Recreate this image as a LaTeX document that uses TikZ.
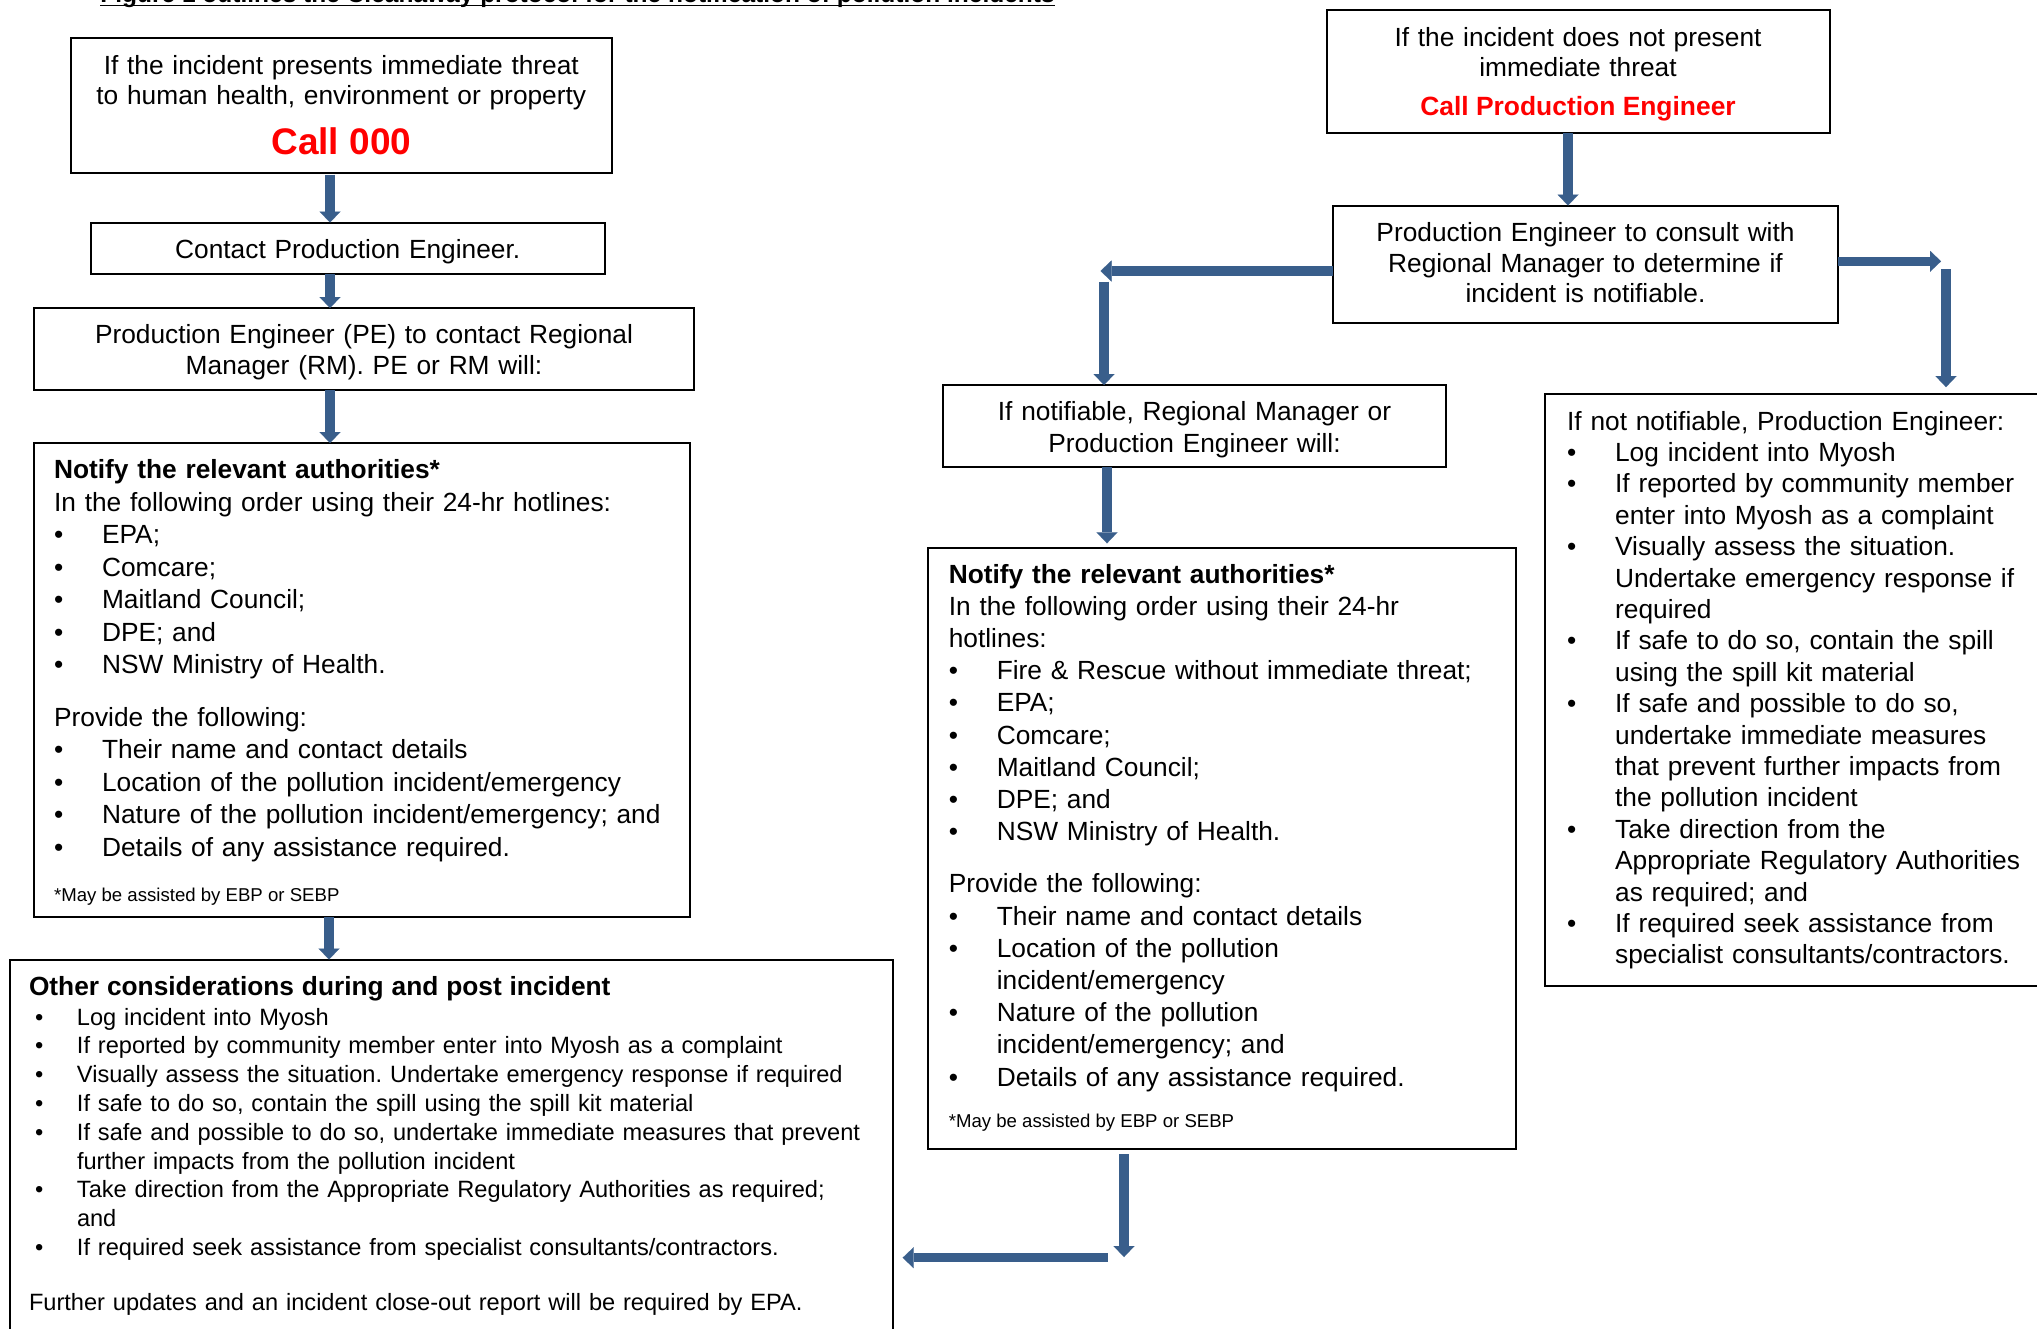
\documentclass[tikz,border=0pt]{standalone}
\usepackage{fontspec}
\setmainfont{Liberation Sans}
\usetikzlibrary{arrows.meta,fit,calc}
\definecolor{arrowblue}{RGB}{57,94,139}
\definecolor{alertred}{RGB}{255,0,0}
\frenchspacing
\newcommand\bu[1]{\noindent\makebox[24pt][l]{\textbullet}#1\par}
\newcommand\cu[1]{\noindent\hspace*{24pt}#1\par}
\newcommand\bv[1]{\noindent\hspace*{3pt}\makebox[21pt][l]{\textbullet}#1\par}
\newcommand\cv[1]{\noindent\hspace*{24pt}#1\par}
\newcommand\pl[1]{\noindent #1\par}
\begin{document}
\begin{tikzpicture}[x=0.5pt,y=-0.5pt,
  box/.style={draw=black, line width=1pt, inner sep=0pt, outer sep=0pt},
  ctext/.style={anchor=base, inner sep=0pt, align=center, font=\fontsize{13.15pt}{15.25pt}\selectfont},
  ltext/.style={anchor=base west, inner sep=0pt, align=left, font=\fontsize{13.15pt}{16.25pt}\selectfont},
  foot/.style={anchor=base west, inner sep=0pt, font=\fontsize{9.3pt}{11pt}\selectfont},
  redtext/.style={anchor=base, inner sep=0pt, text=alertred, font=\bfseries\fontsize{13.2pt}{16pt}\selectfont},
  blk/.style={draw=arrowblue, line width=4.75pt, -{Triangle[length=5.5pt,width=10.5pt,line width=0.01pt]}}
]
\useasboundingbox (0,0) rectangle (2037,1328);

% caption (cut off at top)
\node[anchor=base west, inner sep=0pt, font=\bfseries\fontsize{12.25pt}{14pt}\selectfont] (cap) at (100,2.5) {Figure 1 outlines the Cleanaway protocol for the notification of pollution incidents};
\draw[line width=0.8pt] ([yshift=-1.5pt]cap.base west) -- ([yshift=-1.5pt]cap.base east);

% ---------- boxes ----------
\coordinate (b1a) at (70.5,38);   \coordinate (b1b) at (612,173);
\coordinate (b2a) at (90.5,222.5);\coordinate (b2b) at (605,274);
\coordinate (b3a) at (34,308);    \coordinate (b3b) at (694,390);
\coordinate (b4a) at (33.5,443);  \coordinate (b4b) at (689.5,916.5);
\coordinate (b5a) at (10,959.5);  \coordinate (b5b) at (893,1345);
\coordinate (r1a) at (1326.5,10); \coordinate (r1b) at (1829.5,133);
\coordinate (r2a) at (1333,205.5);\coordinate (r2b) at (1838,322.5);
\coordinate (r3a) at (943,385);   \coordinate (r3b) at (1446,467);
\coordinate (r4a) at (927.5,548.3);\coordinate (r4b) at (1516,1148.5);
\coordinate (r5a) at (1545,393.5);\coordinate (r5b) at (2050,986);

\node[box, fit=(b1a)(b1b)] (b1) {};
\node[box, fit=(b2a)(b2b)] (b2) {};
\node[box, fit=(b3a)(b3b)] (b3) {};
\node[box, fit=(b4a)(b4b)] (b4) {};
\node[box, fit=(b5a)(b5b)] (b5) {};
\node[box, fit=(r1a)(r1b)] (r1) {};
\node[box, fit=(r2a)(r2b)] (r2) {};
\node[box, fit=(r3a)(r3b)] (r3) {};
\node[box, fit=(r4a)(r4b)] (r4) {};
\node[box, fit=(r5a)(r5b)] (r5) {};

% ---------- texts: left column ----------
\node[ctext, text width=265pt] (t1) at (341.3,74) {If the incident presents immediate threat\\to human health, environment or property};
\node[redtext, font=\bfseries\fontsize{18.5pt}{20pt}\selectfont] (t1r) at (341.3,154) {Call 000};
\node[ctext, text width=250pt] (t2) at (347.7,258.6) {Contact Production Engineer.};
\node[ctext, text width=325pt, font=\fontsize{13.15pt}{15.35pt}\selectfont] (t3) at (364,343.7) {Production Engineer (PE) to contact Regional\\Manager (RM). PE or RM will:};

\node[ltext, text width=400pt] (t4) at (53.7,478.5) {%
\pl{\textbf{Notify the relevant authorities*}}
\pl{In the following order using their 24-hr hotlines:}
\bu{EPA;}
\bu{Comcare;}
\bu{Maitland Council;}
\bu{DPE; and}
\bu{NSW Ministry of Health.}
\vspace{10pt}
\pl{Provide the following:}
\bu{Their name and contact details}
\bu{Location of the pollution incident/emergency}
\bu{Nature of the pollution incident/emergency; and}
\bu{Details of any assistance required.}};
\node[foot] (f4) at (53.7,901) {*May be assisted by EBP or SEBP};

\node[ltext, text width=450pt, font=\fontsize{11.8pt}{14.4pt}\selectfont] (t5) at (28.6,995) {%
\pl{\textbf{\fontsize{13.15pt}{14.4pt}\selectfont Other considerations during and post incident}}
\vspace{0.6pt}
\bv{Log incident into Myosh}
\bv{If reported by community member enter into Myosh as a complaint}
\bv{Visually assess the situation. Undertake emergency response if required}
\bv{If safe to do so, contain the spill using the spill kit material}
\bv{If safe and possible to do so, undertake immediate measures that prevent}
\cv{further impacts from the pollution incident}
\bv{Take direction from the Appropriate Regulatory Authorities as required;}
\cv{and}
\bv{If required seek assistance from specialist consultants/contractors.}
\vspace{13pt}
\pl{Further updates and an incident close-out report will be required by EPA.}};

% ---------- texts: right part ----------
\node[ctext, text width=245pt, font=\fontsize{13.15pt}{15pt}\selectfont] (s1) at (1578,46.2) {If the incident does not present\\immediate threat};
\node[redtext] (s1r) at (1578,115.2) {Call Production Engineer};
\node[ctext, text width=245pt, font=\fontsize{13.15pt}{15.3pt}\selectfont] (s2) at (1585.5,241.5) {Production Engineer to consult with\\Regional Manager to determine if\\incident is notifiable.};
\node[ctext, text width=245pt, font=\fontsize{13.15pt}{15.6pt}\selectfont] (s3) at (1194.5,420.8) {If notifiable, Regional Manager or\\Production Engineer will:};

\node[ltext, text width=300pt, font=\fontsize{13.15pt}{16.1pt}\selectfont] (s4) at (948.4,583) {%
\pl{\textbf{Notify the relevant authorities*}}
\pl{In the following order using their 24-hr}
\pl{hotlines:}
\bu{Fire \& Rescue without immediate threat;}
\bu{EPA;}
\bu{Comcare;}
\bu{Maitland Council;}
\bu{DPE; and}
\bu{NSW Ministry of Health.}
\vspace{10pt}
\pl{Provide the following:}
\bu{Their name and contact details}
\bu{Location of the pollution}
\cu{incident/emergency}
\bu{Nature of the pollution}
\cu{incident/emergency; and}
\bu{Details of any assistance required.}};
\node[foot] (f5) at (948.4,1127) {*May be assisted by EBP or SEBP};

\node[ltext, text width=300pt, font=\fontsize{13.15pt}{15.7pt}\selectfont] (s5) at (1566.7,430) {%
\pl{If not notifiable, Production Engineer:}
\bu{Log incident into Myosh}
\bu{If reported by community member}
\cu{enter into Myosh as a complaint}
\bu{Visually assess the situation.}
\cu{Undertake emergency response if}
\cu{required}
\bu{If safe to do so, contain the spill}
\cu{using the spill kit material}
\bu{If safe and possible to do so,}
\cu{undertake immediate measures}
\cu{that prevent further impacts from}
\cu{the pollution incident}
\bu{Take direction from the}
\cu{Appropriate Regulatory Authorities}
\cu{as required; and}
\bu{If required seek assistance from}
\cu{specialist consultants/contractors.}};

% ---------- arrows ----------
\coordinate (xL) at (330,0);
\coordinate (xL2) at (329,0);
\draw[blk, shorten <=0.8pt] (b1.south -| xL) -- (b2.north -| xL);
\draw[blk] (b2.south -| xL) -- (b3.north -| xL);
\draw[blk] (b3.south -| xL) -- (b4.north -| xL);
\draw[blk] (b4.south -| xL2) -- (b5.north -| xL2);

\coordinate (xR1) at (1568,0);
\draw[blk] (r1.south -| xR1) -- (r2.north -| xR1);

\coordinate (a6e) at (1100.5,271);
\draw[blk] (r2.west |- a6e) -- (a6e);
\coordinate (a7s) at (1104,281.7);
\draw[blk] (a7s) -- (r3.north -| a7s);

\coordinate (a8e) at (1941,261.3);
\draw[blk] (r2.east |- a8e) -- (a8e);
\coordinate (a9s) at (1946,269.3);
\draw[blk, shorten >=3.2pt] (a9s) -- (r5.north -| a9s);

\coordinate (xR3) at (1107,0);
\draw[blk, shorten >=2.5pt] (r3.south -| xR3) -- (r4.north -| xR3);

\coordinate (a11s) at (1124,1154);
\coordinate (a11e) at (1124,1257);
\draw[blk, shorten <=2.75pt] (r4.south -| a11s) -- (a11e);
\coordinate (a12s) at (1107.7,1257.7);
\draw[blk, shorten >=4.85pt] (a12s) -- (b5.east |- a12s);
\end{tikzpicture}
\end{document}
